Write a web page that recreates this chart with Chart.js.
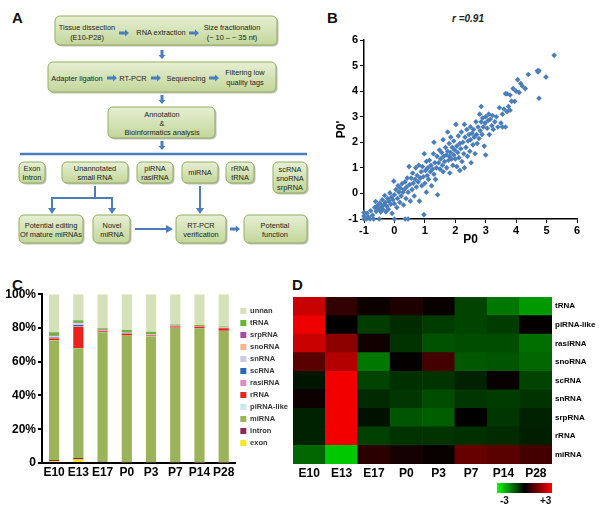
<!DOCTYPE html>
<html>
<head>
<meta charset="utf-8">
<script src="https://cdn.jsdelivr.net/npm/chart.js@4.4.1/dist/chart.umd.min.js"></script>
<style>
  body { margin: 0; background: #fff; font-family: "Liberation Sans", Arial, sans-serif; }
  #page { position: relative; width: 600px; height: 513px; overflow: hidden; }
  .lbl { position: absolute; font-weight: bold; font-size: 15px; color: #111; }
  canvas { position: absolute; }
  #flow { position: absolute; left: 0; top: 0; }
  #flow text { font-family: "Liberation Sans", Arial, sans-serif; font-size: 7.4px; fill: #222; text-anchor: middle; }
  #rTitle { position: absolute; left: 452px; top: 13px; font-size: 10px; font-weight: bold; font-style: italic; color: #222; }
  #cbar { position: absolute; left: 497px; top: 483px; width: 55px; height: 10px; background: linear-gradient(to right, #00ff00, #000 50%, #ff0000); }
  .cb { position: absolute; top: 495px; font-size: 10px; font-weight: bold; color: #111; }
</style>
</head>
<body>
<div id="page">
  <div class="lbl" style="left:12px;top:9px">A</div>
  <div class="lbl" style="left:327px;top:9px">B</div>
  <div class="lbl" style="left:12px;top:276px">C</div>
  <div class="lbl" style="left:292px;top:276px">D</div>

  <svg id="flow" width="320" height="260">
    <defs>
      <linearGradient id="gb" x1="0" y1="0" x2="0" y2="1">
        <stop offset="0" stop-color="#e6efd4"/>
        <stop offset="1" stop-color="#c3d69a"/>
      </linearGradient>
    </defs>
    <g id="boxes"></g>
    <g fill="#4a7ebb" stroke="none" id="arrows"></g>
    <g stroke="#4a7ebb" fill="none">
      <line x1="20" y1="154" x2="307" y2="154" stroke-width="2.5"/>
      <polyline points="95,186 95,198" stroke-width="2"/>
      <polyline points="52,209 52,198 112,198 112,209" stroke-width="2"/>
      <line x1="200" y1="186" x2="200" y2="209" stroke-width="2"/>
      <line x1="135" y1="229" x2="167" y2="229" stroke-width="2"/>
    </g>
    <g fill="#4a7ebb">
      <polygon points="48,208 56,208 52,214"/>
      <polygon points="108,208 116,208 112,214"/>
      <polygon points="196,208 204,208 200,214"/>
      <polygon points="166,225 166,233 173,229"/>
    </g>
    <g id="texts">
      <text x="87" y="30">Tissue dissection</text><text x="87" y="40">(E10-P28)</text>
      <text x="161" y="35">RNA extraction</text>
      <text x="232" y="30">Size fractionation</text><text x="232" y="40">(~ 10 – ~ 35 nt)</text>
      <text x="77" y="81">Adapter ligation</text>
      <text x="133" y="81">RT-PCR</text>
      <text x="186" y="81">Sequencing</text>
      <text x="245" y="75">Filtering low</text><text x="245" y="85">quality tags</text>
      <text x="162" y="117">Annotation</text><text x="162" y="126">&amp;</text><text x="162" y="135">Bioinformatics  analysis</text>
      <text x="32" y="171">Exon</text><text x="32" y="180">Intron</text>
      <text x="95" y="171">Unannotated</text><text x="95" y="180">small RNA</text>
      <text x="155" y="171">piRNA</text><text x="155" y="180">rasiRNA</text>
      <text x="200" y="175">miRNA</text>
      <text x="240" y="171">rRNA</text><text x="240" y="180">tRNA</text>
      <text x="290" y="172">scRNA</text><text x="290" y="181">snoRNA</text><text x="290" y="190">srpRNA</text>
      <text x="51" y="228">Potential editing</text><text x="51" y="237">Of mature miRNAs</text>
      <text x="112" y="228">Novel</text><text x="112" y="237">miRNA</text>
      <text x="201" y="228">RT-PCR</text><text x="201" y="237">verification</text>
      <text x="275" y="228">Potential</text><text x="275" y="237">function</text>
    </g>
  </svg>

  <div id="rTitle">r =0.91</div>
  <canvas id="chartB" width="272" height="252" style="left:318px;top:0px"></canvas>
  <canvas id="chartC" width="298" height="205" style="left:0px;top:285px"></canvas>
  <canvas id="chartD" width="315" height="205" style="left:285px;top:285px"></canvas>

  <div id="cbar"></div>
  <div class="cb" style="left:500px">-3</div>
  <div class="cb" style="left:540px">+3</div>
</div>

<script>
// ---- panel B: P0 vs P0' (log values) ----
const scatterPoints = [
  [-1,-1],[-1,-0.88],[-1,-0.75],[-0.92,-1],[-0.9,-0.78],[-0.85,-0.92],[-0.8,-1],[-0.78,-0.68],[-0.72,-0.85],[-0.68,-1],
  [-0.65,-0.55],[-0.62,-0.32],[-0.6,-0.7],[-0.56,-0.48],[-0.52,-0.6],[-0.5,-1],[-0.48,-0.38],[-0.45,-0.72],[-0.42,-0.52],[-0.4,-0.25],
  [-0.38,-0.62],[-0.35,-0.45],[-0.32,-0.08],[-0.3,-0.35],[-0.28,-0.72],[-0.25,-0.5],[-0.22,-0.2],[-0.2,-0.62],[-0.18,-0.3],[-0.15,0.02],
  [-0.12,-0.42],[-0.1,-0.15],[-0.08,-0.78],[-0.05,-0.25],[-0.02,0.48],[0,-0.05],[0,-1],[0,-0.4],
  [0.05,0.15],[0.08,-0.55],[0.1,-0.2],[0.12,0.3],[0.15,0.05],[0.18,-0.35],[0.2,0.2],[0.22,-0.1],[0.25,0.38],[0.28,0.05],
  [0.3,-0.45],[0.32,0.15],[0.35,-1],[0.35,0.45],[0.38,-0.2],[0.4,0.25],[0.42,0.6],[0.45,-1],[0.45,0.05],[0.48,1.05],
  [0.5,0.35],[0.52,-0.3],[0.55,0.6],[0.58,0.15],[0.6,0.8],[0.62,0.4],[0.65,-0.1],[0.68,0.55],[0.7,1.0],[0.72,0.25],
  [0.75,0.7],[0.78,0.45],[0.8,1.1],[0.82,-0.3],[0.85,0.6],[0.88,0.85],[0.9,0.3],[0.92,1.05],[0.95,0.65],[0.97,-0.83],
  [0.98,1.55],[1,0.4],
  [1.02,0.9],[1.05,0.05],[1.05,1.25],[1.08,0.7],[1.1,1.0],[1.12,0.55],[1.15,1.3],[1.18,0.85],[1.2,1.1],[1.22,0.3],
  [1.25,0.95],[1.28,1.55],[1.3,2.0],[1.3,0.75],[1.33,1.2],[1.35,0.55],[1.38,1.0],[1.4,1.45],[1.42,-0.05],[1.45,1.2],
  [1.48,1.7],[1.5,0.95],[1.52,1.35],[1.55,1.6],[1.58,1.1],[1.6,2.1],[1.6,0.85],[1.62,1.45],[1.65,1.25],[1.68,1.8],
  [1.7,1.5],[1.72,1.0],[1.75,2.4],[1.75,1.65],[1.78,1.3],[1.8,1.95],[1.8,1.45],[1.82,0.8],[1.85,1.6],[1.85,2.2],
  [1.88,1.35],[1.9,1.8],[1.92,1.1],[1.95,1.5],[1.95,2.05],[1.98,1.7],
  [2.0,1.35],[2.02,2.7],[2.05,1.85],[2.05,1.05],[2.08,1.6],[2.1,2.25],[2.12,1.4],[2.15,1.95],[2.15,0.9],[2.18,1.75],
  [2.2,2.4],[2.22,1.25],[2.25,2.0],[2.28,1.55],[2.3,2.7],[2.3,1.0],[2.32,2.2],[2.35,1.8],[2.38,2.5],[2.4,1.45],
  [2.42,2.05],[2.45,2.3],[2.48,1.65],[2.5,2.6],[2.5,2.1],[2.52,1.2],[2.55,2.35],[2.58,1.9],[2.6,2.5],[2.62,2.2],
  [2.65,1.55],[2.68,2.8],[2.7,2.3],[2.72,1.95],[2.75,2.6],[2.78,2.15],[2.8,3.1],[2.82,2.45],[2.85,2.8],[2.85,3.4],
  [2.88,2.3],[2.9,2.95],[2.92,2.6],[2.95,1.85],[2.98,2.75],[3.0,1.5],[3.0,3.0],
  [3.05,2.55],[3.08,2.85],[3.1,3.1],[3.12,2.3],[3.15,2.9],[3.2,2.65],[3.22,3.05],[3.25,2.5],[3.3,2.8],[3.35,3.0],
  [3.4,2.6],[3.45,3.35],[3.5,2.75],[3.55,3.1],[3.55,2.6],[3.6,3.3],[3.65,2.6],[3.7,3.2],[3.75,3.4],[3.8,3.25],
  [3.85,3.6],[3.8,3.85],[3.65,3.9],[3.7,3.9],[3.9,4.1],[3.95,3.6],[4.0,4.0],
  [4.05,4.45],[4.1,3.95],[4.15,4.3],[4.2,4.2],[4.3,4.1],[4.4,4.65],[4.7,4.8],[4.72,4.75],[4.75,3.72],[4.75,4.8],
  [4.98,4.55],[5.25,5.4]
];

// ---- panel C: small RNA composition (%) per stage ----
const stages = ['E10', 'E13', 'E17', 'P0', 'P3', 'P7', 'P14', 'P28'];
const exonPct     = [1.0, 2.0, 0, 0, 0, 0, 0, 0];
const intronPct   = [0.8, 1.0, 0.8, 0.5, 0.5, 0.5, 0.3, 0.3];
const miRNAPct    = [70.7, 65.0, 76.7, 75.0, 74.5, 79.5, 79.5, 78.0];
const piRNAPct    = [0.2, 0.1, 0.1, 0.1, 0.1, 0.1, 0.1, 0.1];
const rRNAPct     = [1.0, 12.5, 0.5, 1.0, 0.5, 0.8, 0.8, 1.5];
const rasiRNAPct  = [0.4, 0.3, 0.5, 0.4, 0.3, 0.2, 0.1, 0.1];
const scRNAPct    = [0.3, 0.8, 0, 0, 0, 0, 0, 0];
const snRNAPct    = [0.6, 0.8, 0.1, 0.1, 0.1, 0.1, 0.1, 0.1];
const snoRNAPct   = [0.2, 0.3, 0.1, 0.1, 0.1, 0.1, 0.1, 0.1];
const srpRNAPct   = [0.2, 0.3, 0.1, 0.1, 0.1, 0.1, 0.1, 0.1];
const tRNAPct     = [2.0, 1.5, 1.0, 1.5, 1.5, 0.6, 0.6, 0.6];
const unnanPct    = [22.6, 15.4, 20.1, 21.2, 22.3, 18.0, 18.3, 19.1];

// ---- panel D: heatmap (z-scores, rows top to bottom) ----
const heatRows = ['tRNA', 'piRNA-like', 'rasiRNA', 'snoRNA', 'scRNA', 'snRNA', 'srpRNA', 'rRNA', 'miRNA'];
const heatValues = [
  [2.35, 0.6, 0.15, 0.35, 0.1, -0.8, -1.4, -1.8],
  [2.8, 0.0, -0.7, -0.5, -0.7, -0.8, -0.7, 0.05],
  [2.35, 1.65, 0.2, -0.6, -0.95, -0.9, -0.9, -1.3],
  [1.05, 2.1, -1.4, 0.05, 0.8, -1.05, -1.0, -1.2],
  [-0.25, 2.85, -0.8, -0.55, -0.6, -0.4, 0.1, -0.8],
  [0.15, 2.85, -0.5, -0.65, -0.9, -0.65, -0.7, -0.6],
  [-0.4, 2.85, -0.2, -1.0, -1.1, 0.0, -0.65, -0.4],
  [-0.4, 2.85, -0.75, -0.6, -0.6, -0.55, -0.5, -0.35],
  [-1.2, -2.35, 0.5, 0.25, 0.1, 1.2, 1.05, 0.8]
];

// ---- flowchart boxes ----
const flowBoxes = [
  [55, 16, 222, 29], [48, 62, 228, 30], [108, 107, 107, 31],
  [19, 162, 26, 21], [62, 162, 66, 21], [137, 162, 36, 21], [182, 162, 36, 21], [226, 162, 28, 21], [273, 162, 34, 31],
  [19, 215, 64, 28], [93, 215, 37, 28], [176, 215, 50, 28], [244, 215, 63, 28]
];
const fatArrows = [
  ['r', 119, 33], ['r', 189, 33], ['r', 107, 78], ['r', 151, 78], ['r', 209, 78], ['r', 230, 229],
  ['d', 162, 50], ['d', 162, 95], ['d', 162, 141]
];

const NS = 'http://www.w3.org/2000/svg';
const boxG = document.getElementById('boxes');
flowBoxes.forEach(([x, y, w, h]) => {
  const sh = document.createElementNS(NS, 'rect');
  sh.setAttribute('x', x + 1.5); sh.setAttribute('y', y + 1.5);
  sh.setAttribute('width', w); sh.setAttribute('height', h); sh.setAttribute('rx', 5);
  sh.setAttribute('fill', '#bfbfbf');
  boxG.appendChild(sh);
  const r = document.createElementNS(NS, 'rect');
  r.setAttribute('x', x); r.setAttribute('y', y);
  r.setAttribute('width', w); r.setAttribute('height', h); r.setAttribute('rx', 5);
  r.setAttribute('fill', 'url(#gb)'); r.setAttribute('stroke', '#94ad5c'); r.setAttribute('stroke-width', 1);
  boxG.appendChild(r);
});
const arrG = document.getElementById('arrows');
fatArrows.forEach(([dir, x, y]) => {
  const p = document.createElementNS(NS, 'polygon');
  const pts = dir === 'r'
    ? [[x, y - 1.5], [x + 6, y - 1.5], [x + 6, y - 3.5], [x + 10, y], [x + 6, y + 3.5], [x + 6, y + 1.5], [x, y + 1.5]]
    : [[x - 1.5, y], [x + 1.5, y], [x + 1.5, y + 5], [x + 3.5, y + 5], [x, y + 9], [x - 3.5, y + 5], [x - 1.5, y + 5]];
  p.setAttribute('points', pts.map(q => q.join(',')).join(' '));
  arrG.appendChild(p);
});

const boldFont = (size) => ({ family: '"Liberation Sans", Arial, sans-serif', size: size, weight: 'bold' });

// ---- chart B ----
new Chart(document.getElementById('chartB'), {
  type: 'scatter',
  data: {
    datasets: [{
      data: scatterPoints.map(p => ({ x: p[0], y: p[1] })),
      pointStyle: 'rectRot',
      radius: 2.8,
      backgroundColor: '#4a7ebb',
      borderWidth: 0,
      clip: false
    }]
  },
  options: {
    responsive: false,
    animation: false,
    layout: { padding: { left: 14, right: 13, top: 40, bottom: 3 } },
    plugins: { legend: { display: false }, tooltip: { enabled: false } },
    scales: {
      x: {
        min: -1, max: 6,
        ticks: { stepSize: 1, font: boldFont(11), color: '#000', padding: 1 },
        grid: { drawOnChartArea: false, tickLength: 4, color: '#000' },
        border: { color: '#000', width: 1.5 },
        title: { display: true, text: 'P0', font: boldFont(12), color: '#000', padding: 2 },
        afterFit: (s) => { s.height = 30; }
      },
      y: {
        min: -1, max: 6,
        ticks: { stepSize: 1, font: boldFont(11), color: '#000', padding: 2 },
        grid: { drawOnChartArea: false, tickLength: 4, color: '#000' },
        border: { color: '#000', width: 1.5 },
        title: { display: true, text: "P0'", font: boldFont(12), color: '#000', padding: 2 },
        afterFit: (s) => { s.width = 32; }
      }
    }
  }
});

// ---- chart C ----
const seriesC = [
  ['exon', exonPct, '#f2ea1a'],
  ['intron', intronPct, '#8c2a55'],
  ['miRNA', miRNAPct, '#9bb45a'],
  ['piRNA-like', piRNAPct, '#c9e7ef'],
  ['rRNA', rRNAPct, '#e8231d'],
  ['rasiRNA', rasiRNAPct, '#dc8fbf'],
  ['scRNA', scRNAPct, '#2a68b0'],
  ['snRNA', snRNAPct, '#c9c9e8'],
  ['snoRNA', snoRNAPct, '#f6b58c'],
  ['srpRNA', srpRNAPct, '#a84f9f'],
  ['tRNA', tRNAPct, '#6cb23d'],
  ['unnan', unnanPct, '#d6e1b9']
];
new Chart(document.getElementById('chartC'), {
  type: 'bar',
  data: {
    labels: stages,
    datasets: seriesC.map(([name, vals, col]) => ({
      label: name, data: vals, backgroundColor: col, borderWidth: 0,
      barPercentage: 0.42, categoryPercentage: 1
    }))
  },
  options: {
    responsive: false,
    animation: false,
    layout: { padding: { left: 4, right: 0, top: 7, bottom: 7 } },
    plugins: {
      tooltip: { enabled: false },
      legend: {
        position: 'right',
        reverse: true,
        align: 'start',
        title: { display: true, text: ' ', font: { size: 9 }, padding: 0 },
        labels: { boxWidth: 6, boxHeight: 6, padding: 4.5, font: boldFont(7.5), color: '#333' }
      }
    },
    scales: {
      x: {
        stacked: true,
        ticks: { font: boldFont(12), color: '#000', padding: 2, maxRotation: 0, minRotation: 0, autoSkip: false },
        grid: { display: false, drawTicks: false },
        border: { color: '#000', width: 2 },
        afterFit: (s) => { s.height = 20; }
      },
      y: {
        stacked: true, min: 0, max: 100,
        ticks: { stepSize: 20, font: boldFont(12), color: '#000', padding: 2,
                 callback: (v) => v === 0 ? '0' : v + '%' },
        grid: { drawOnChartArea: false, tickLength: 4, color: '#000', lineWidth: 2 },
        border: { color: '#000', width: 2 },
        afterFit: (s) => { s.width = 38; }
      }
    }
  }
});

// ---- chart D ----
const heatColor = (v) => {
  const c = Math.round(Math.min(Math.abs(v), 3) / 3 * 255);
  return v >= 0 ? `rgb(${c},0,0)` : `rgb(0,${c},0)`;
};
const heatDatasets = [];
for (let i = heatRows.length - 1; i >= 0; i--) {
  heatDatasets.push({
    label: heatRows[i],
    data: stages.map(() => 1),
    backgroundColor: heatValues[i].map(heatColor),
    borderWidth: 0,
    barPercentage: 1,
    categoryPercentage: 1
  });
}
new Chart(document.getElementById('chartD'), {
  type: 'bar',
  data: { labels: stages, datasets: heatDatasets },
  options: {
    responsive: false,
    animation: false,
    layout: { padding: { left: 8, right: 2, top: 12, bottom: 6 } },
    plugins: { legend: { display: false }, tooltip: { enabled: false } },
    scales: {
      x: {
        stacked: true,
        ticks: { font: boldFont(12), color: '#000', padding: 2, maxRotation: 0, minRotation: 0, autoSkip: false },
        grid: { display: false, drawTicks: false },
        border: { display: false },
        afterFit: (s) => { s.height = 20; }
      },
      y: {
        stacked: true, min: 0, max: heatRows.length,
        position: 'right',
        afterBuildTicks: (axis) => { axis.ticks = heatRows.map((r, i) => ({ value: i + 0.5 })); },
        ticks: { font: boldFont(8), color: '#000', padding: 3,
                 callback: (v) => heatRows[heatRows.length - 1 - Math.floor(v)] },
        grid: { display: false, drawTicks: false },
        border: { display: false },
        afterFit: (s) => { s.width = 46; }
      }
    }
  }
});
</script>
</body>
</html>
